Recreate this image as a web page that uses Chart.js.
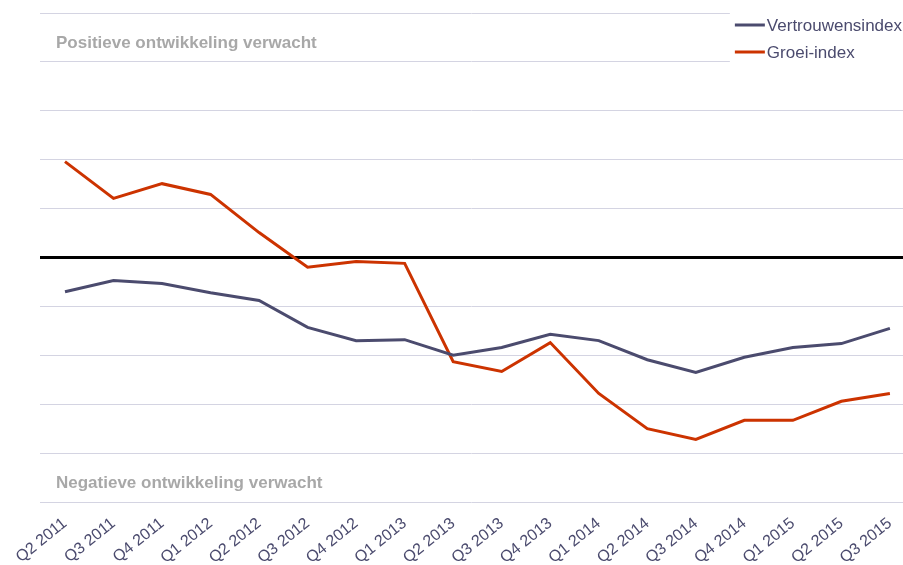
<!DOCTYPE html>
<html>
<head>
<meta charset="utf-8">
<script src="https://cdn.jsdelivr.net/npm/chart.js@4/dist/chart.umd.min.js"></script>
<style>
  html, body { margin: 0; padding: 0; background: #fff; }
  #wrap { width: 903px; height: 565px; position: relative; }
</style>
</head>
<body>
<div id="wrap"><canvas id="c"></canvas></div>
<script>
const categories = ["Q2 2011","Q3 2011","Q4 2011","Q1 2012","Q2 2012","Q3 2012","Q4 2012","Q1 2013","Q2 2013","Q3 2013","Q4 2013","Q1 2014","Q2 2014","Q3 2014","Q4 2014","Q1 2015","Q2 2015","Q3 2015"];
const vertrouwensindex = [-7.0,-4.7,-5.3,-7.2,-8.8,-14.3,-17.0,-16.8,-20.0,-18.4,-15.7,-17.0,-20.9,-23.5,-20.4,-18.4,-17.6,-14.5];
const groeiIndex = [19.6,12.1,15.1,12.9,5.1,-2.0,-0.8,-1.2,-21.3,-23.3,-17.4,-27.8,-35.0,-37.2,-33.3,-33.3,-29.4,-27.8];
const seriesNames = ["Vertrouwensindex","Groei-index"];
const seriesColors = ["#4b4b6e","#cc3300"];
const zoneLabels = ["Positieve ontwikkeling verwacht","Negatieve ontwikkeling verwacht"];
const zoneValues = [43.8,-46.2];

const toPoints = arr => arr.map((v, i) => ({x: i, y: v}));

const customLegend = {
  id: 'customLegend',
  beforeDatasetsDraw(chart) {
    const ctx = chart.ctx;
    ctx.save();
    ctx.font = '17px "Liberation Sans", Arial, sans-serif';
    const lineLen = 30, gap = 2, rowH = 27;
    const maxW = Math.max(...chart.data.datasets.map(d => ctx.measureText(d.label).width));
    const left = chart.width - 1 - maxW - gap - lineLen;
    ctx.fillStyle = '#fff';
    ctx.fillRect(left - 5, 0, chart.width - left + 5, 70);
    chart.data.datasets.forEach((d, i) => {
      const yy = 25 + i * rowH;
      ctx.strokeStyle = d.borderColor;
      ctx.lineWidth = 3;
      ctx.beginPath();
      ctx.moveTo(left, yy);
      ctx.lineTo(left + lineLen, yy);
      ctx.stroke();
      ctx.fillStyle = '#4b4b6e';
      ctx.textBaseline = 'middle';
      ctx.textAlign = 'left';
      ctx.fillText(d.label, left + lineLen + gap, yy + 1);
    });
    ctx.restore();
  }
};

const zoneText = {
  id: 'zoneText',
  beforeDatasetsDraw(chart) {
    const ctx = chart.ctx, y = chart.scales.y, area = chart.chartArea;
    ctx.save();
    ctx.font = 'bold 17px "Liberation Sans", Arial, sans-serif';
    ctx.fillStyle = '#a8a8a8';
    ctx.textBaseline = 'middle';
    ctx.textAlign = 'left';
    zoneLabels.forEach((t, i) => ctx.fillText(t, area.left + 16, y.getPixelForValue(zoneValues[i])));
    ctx.restore();
  }
};

new Chart(document.getElementById('c'), {
  type: 'line',
  data: {
    datasets: [
      { label: seriesNames[0], data: toPoints(vertrouwensindex), borderColor: seriesColors[0], backgroundColor: seriesColors[0], borderWidth: 3, pointRadius: 0, tension: 0 },
      { label: seriesNames[1], data: toPoints(groeiIndex), borderColor: seriesColors[1], backgroundColor: seriesColors[1], borderWidth: 3, pointRadius: 0, tension: 0 }
    ]
  },
  options: {
    responsive: true,
    maintainAspectRatio: false,
    animation: false,
    layout: { padding: { top: 13, left: 40, right: 0, bottom: 0 } },
    plugins: {
      tooltip: { enabled: false },
      legend: { display: false }
    },
    scales: {
      x: {
        type: 'linear',
        min: -0.515,
        max: 17.27,
        grid: { display: false },
        border: { display: false },
        afterBuildTicks: axis => { axis.ticks = categories.map((_, i) => ({ value: i })); },
        afterFit: axis => { axis.height = 63; axis.paddingRight = 0; axis.paddingLeft = 0; },
        ticks: {
          autoSkip: false,
          minRotation: 39,
          maxRotation: 39,
          padding: 4,
          color: '#4b4b6e',
          font: { size: 16, family: '"Liberation Sans", Arial, sans-serif' },
          callback: v => categories[v]
        }
      },
      y: {
        min: -50,
        max: 50,
        afterFit: axis => { axis.width = 0; },
        border: { display: false },
        ticks: { display: false, stepSize: 10 },
        grid: {
          drawTicks: false,
          color: c => c.tick && c.tick.value === 0 ? '#000' : '#d4d4e2',
          lineWidth: c => c.tick && c.tick.value === 0 ? 3 : 1
        }
      }
    }
  },
  plugins: [zoneText, customLegend]
});
</script>
</body>
</html>
